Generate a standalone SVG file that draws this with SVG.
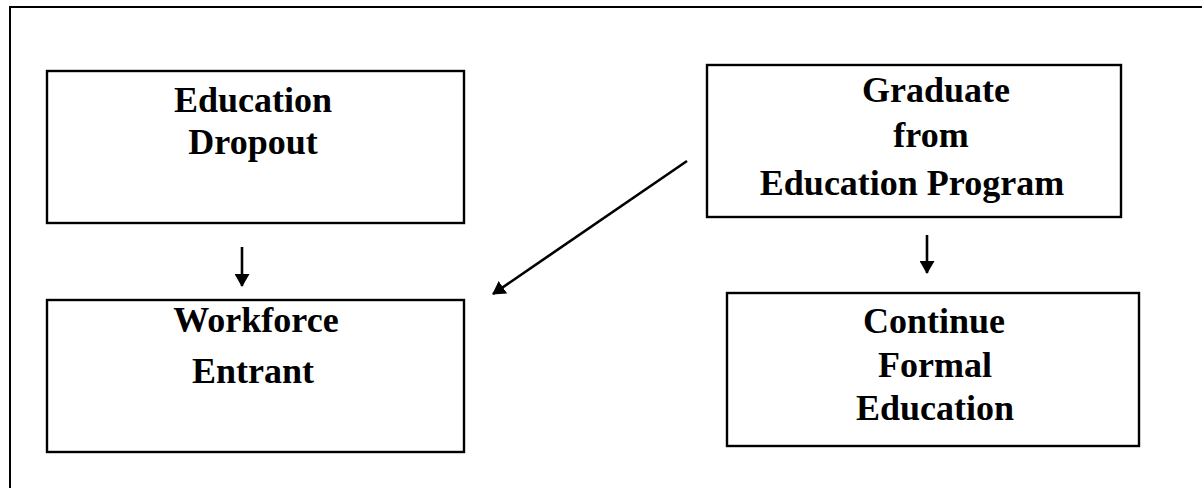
<svg xmlns="http://www.w3.org/2000/svg" width="1202" height="488" viewBox="0 0 1202 488">
<style>
.box{fill:none;stroke:#000;stroke-width:2.4}
.frame{fill:none;stroke:#000;stroke-width:2}
.t{font-family:"Liberation Serif","Times New Roman",serif;font-weight:bold;font-size:36px;fill:#000;text-anchor:middle}
.c{stroke:#000;stroke-width:2.6;fill:none}
</style>
<defs>
<marker id="ah" viewBox="0 0 13 15" refX="12" refY="7.5" markerWidth="13" markerHeight="15" markerUnits="userSpaceOnUse" orient="auto">
<path d="M0,0 L13,7.5 L0,15 Z" fill="#000"/>
</marker>
</defs>
<rect width="1202" height="488" fill="#fff"/>
<rect class="frame" x="10" y="7" width="1200" height="500"/>
<g id="n1">
<rect class="box" x="47" y="71" width="417" height="152"/>
<text class="t" x="253" y="112">Education</text>
<text class="t" x="253" y="154">Dropout</text>
</g>
<g id="n2">
<rect class="box" x="47" y="300" width="417" height="152"/>
<text class="t" x="256" y="332">Workforce</text>
<text class="t" x="253" y="383">Entrant</text>
</g>
<g id="n3">
<rect class="box" x="707" y="65" width="414" height="152"/>
<text class="t" x="936" y="102">Graduate</text>
<text class="t" x="931" y="147">from</text>
<text class="t" x="912" y="195">Education Program</text>
</g>
<g id="n4">
<rect class="box" x="727" y="293" width="412" height="153"/>
<text class="t" x="934" y="333">Continue</text>
<text class="t" x="935" y="377">Formal</text>
<text class="t" x="935" y="420">Education</text>
</g>
<g id="connectors">
<line class="c" x1="242" y1="247" x2="242" y2="286" marker-end="url(#ah)"/>
<line class="c" x1="927" y1="235" x2="927" y2="273" marker-end="url(#ah)"/>
<line class="c" x1="687" y1="161" x2="493" y2="294" marker-end="url(#ah)"/>
</g>
</svg>
